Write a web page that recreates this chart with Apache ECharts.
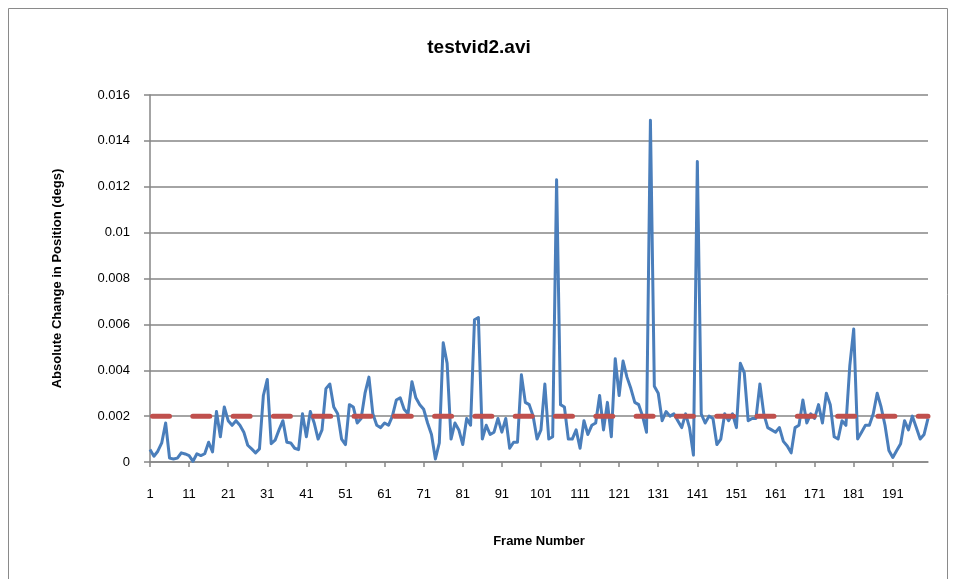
<!DOCTYPE html>
<html>
<head>
<meta charset="utf-8">
<script src="https://cdn.jsdelivr.net/npm/echarts@6/dist/echarts.min.js"></script>
<style>
  html, body { margin: 0; padding: 0; background: #fff; }
  #chart { width: 958px; height: 579px; }
</style>
</head>
<body>
<div id="chart"></div>
<script>
// Frame numbers 1..200
const frames = [];
for (let i = 1; i <= 200; i++) frames.push(String(i));

// Absolute change in position per frame (degrees)
const positionChange = [
  0.00054, 0.00025, 0.00047, 0.00083, 0.0017, 0.00017, 0.00013, 0.00017, 0.0004, 0.00035,
  0.00028, 0.00003, 0.00036, 0.00028, 0.00036, 0.00086, 0.00044, 0.0022, 0.0011, 0.0024,
  0.0018, 0.0016, 0.0018, 0.0016, 0.0013, 0.00073, 0.00057, 0.0004, 0.00057, 0.0029,
  0.0036, 0.0008, 0.00095, 0.0014, 0.0018, 0.00086, 0.00083, 0.0006, 0.00054, 0.0021,
  0.0011, 0.0022, 0.0017, 0.001, 0.0014, 0.0032, 0.0034, 0.0024, 0.0021, 0.001,
  0.00076, 0.0025, 0.0024, 0.0017, 0.0019, 0.003, 0.0037, 0.0021, 0.0016, 0.0015,
  0.0017, 0.0016, 0.002, 0.0027, 0.0028, 0.0023, 0.0021, 0.0035, 0.0028, 0.0025,
  0.0023, 0.0017, 0.0012, 0.00013, 0.00083, 0.0052, 0.0043, 0.001, 0.0017, 0.0014,
  0.00076, 0.0019, 0.0016, 0.0062, 0.0063, 0.001, 0.0016, 0.0012, 0.0013, 0.0019,
  0.0013, 0.0019, 0.0006, 0.00086, 0.00086, 0.0038, 0.0026, 0.0025, 0.002, 0.001,
  0.0014, 0.0034, 0.001, 0.0011, 0.0123, 0.0025, 0.0024, 0.001, 0.001, 0.0014,
  0.0006, 0.0018, 0.0012, 0.0016, 0.0017, 0.0029, 0.0014, 0.0026, 0.0011, 0.0045,
  0.0029, 0.0044, 0.0037, 0.0032, 0.0026, 0.0025, 0.002, 0.0013, 0.0149, 0.0033,
  0.003, 0.0018, 0.0022, 0.002, 0.0021, 0.0018, 0.0015, 0.0021, 0.0015, 0.0003,
  0.0131, 0.0021, 0.0017, 0.002, 0.0019, 0.00076, 0.001, 0.0021, 0.0018, 0.0021,
  0.0015, 0.0043, 0.0039, 0.0018, 0.0019, 0.0019, 0.0034, 0.0021, 0.0015, 0.0014,
  0.0013, 0.0015, 0.0009, 0.0007, 0.0004, 0.0015, 0.0016, 0.0027, 0.0017, 0.0021,
  0.0019, 0.0025, 0.0017, 0.003, 0.0025, 0.0011, 0.001, 0.0018, 0.0016, 0.0042,
  0.0058, 0.001, 0.0013, 0.0016, 0.0016, 0.0021, 0.003, 0.0024, 0.0016, 0.0005,
  0.0002, 0.0005, 0.0008, 0.0018, 0.0014, 0.002, 0.0015, 0.001, 0.0012, 0.0019
];

// Threshold level drawn as a dashed line
const thresholdValue = 0.002;
const threshold = frames.map(() => thresholdValue);

// Y axis tick values
const yTicks = [0, 0.002, 0.004, 0.006, 0.008, 0.01, 0.012, 0.014, 0.016];

const FONT = '"Liberation Sans", Arial, sans-serif';

const chart = echarts.init(document.getElementById('chart'), null, { renderer: 'canvas' });
chart.setOption({
  animation: false,
  backgroundColor: '#ffffff',
  title: {
    text: 'testvid2.avi',
    left: 'center',
    top: 33,
    textStyle: { fontFamily: FONT, fontSize: 19, fontWeight: 'bold', color: '#000' }
  },
  graphic: [{
    type: 'rect',
    shape: { x: 8.5, y: 8.5, width: 939, height: 620 },
    style: { fill: 'none', stroke: '#8a8a8a', lineWidth: 1 },
    silent: true
  }],
  grid: { left: 150, right: 30, top: 95, bottom: 117 },
  xAxis: {
    type: 'category',
    data: frames,
    boundaryGap: false,
    name: 'Frame Number',
    nameLocation: 'middle',
    nameGap: 73,
    nameTextStyle: { fontFamily: FONT, fontSize: 13, fontWeight: 'bold', color: '#000' },
    axisLine: { lineStyle: { color: '#868686', width: 1.5 } },
    axisTick: { interval: 9, length: 5, lineStyle: { color: '#868686', width: 1.5 } },
    axisLabel: { interval: 9, margin: 26, fontFamily: FONT, fontSize: 13, color: '#000' },
    splitLine: { show: false }
  },
  yAxis: {
    type: 'value',
    min: yTicks[0],
    max: yTicks[yTicks.length - 1],
    interval: 0.002,
    name: 'Absolute Change in Position (degs)',
    nameLocation: 'middle',
    nameRotate: 90,
    nameGap: 86,
    nameTextStyle: { fontFamily: FONT, fontSize: 13, fontWeight: 'bold', color: '#000' },
    axisLine: { show: true, lineStyle: { color: '#868686', width: 1.5 } },
    axisTick: { show: true, length: 6, lineStyle: { color: '#868686', width: 1.5 } },
    axisLabel: {
      margin: 20, fontFamily: FONT, fontSize: 13, color: '#000',
      formatter: v => (v === 0 ? '0' : String(+v.toFixed(3)))
    },
    splitLine: { lineStyle: { color: '#868686', width: 1.5 } }
  },
  series: [
    {
      name: 'Change',
      type: 'line',
      data: positionChange,
      symbol: 'none',
      lineStyle: { color: '#4A7EBB', width: 3, join: 'round' },
      z: 2
    },
    {
      name: 'Threshold',
      type: 'line',
      data: threshold,
      symbol: 'none',
      lineStyle: { color: '#C0504D', width: 5, type: [17, 23.3], dashOffset: -2.5, cap: 'round' },
      z: 3
    }
  ]
});
</script>
</body>
</html>
